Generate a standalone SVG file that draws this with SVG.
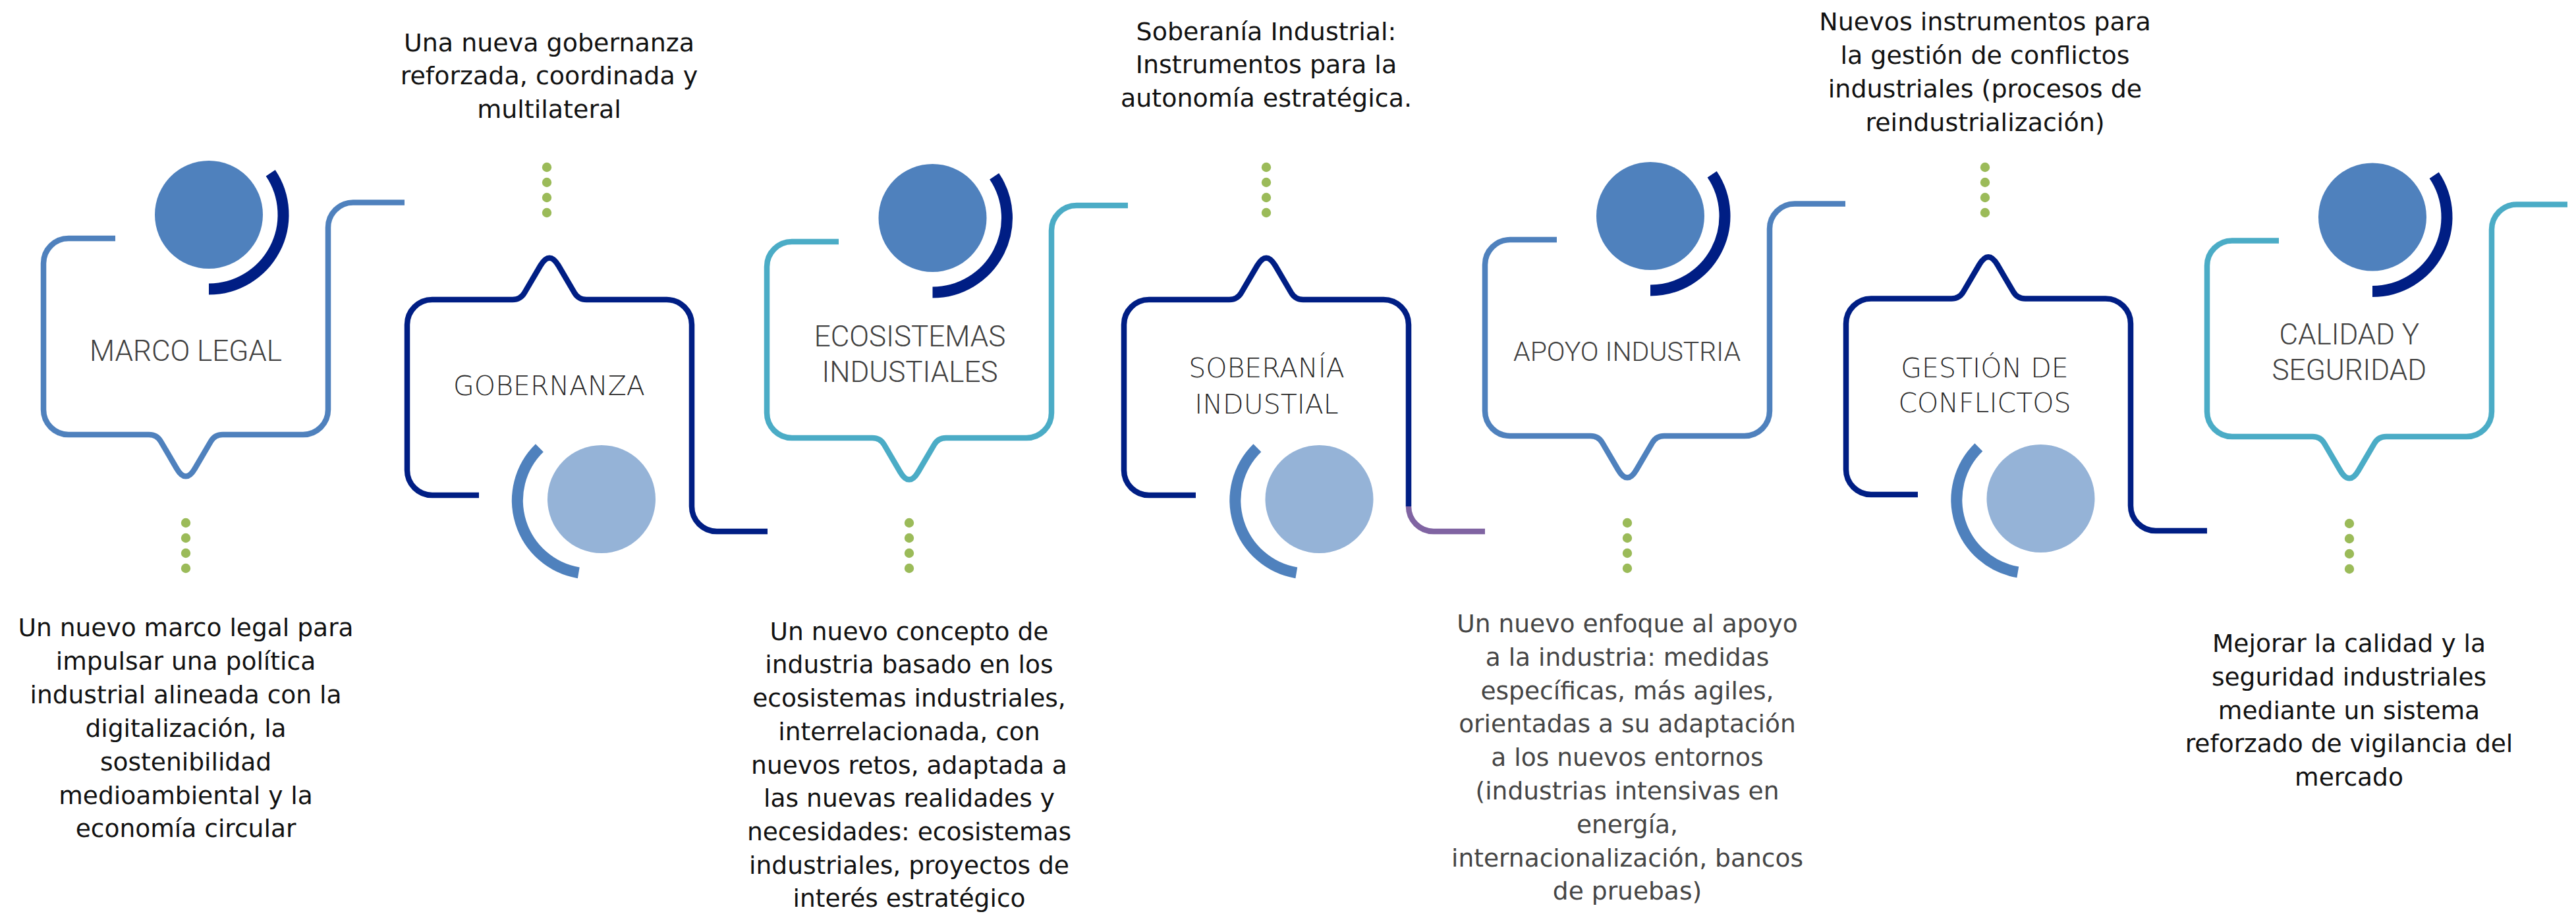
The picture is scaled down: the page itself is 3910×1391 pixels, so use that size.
<svg xmlns="http://www.w3.org/2000/svg" width="3910" height="1391" viewBox="0 0 3910 1391">
<style>
.frame{fill:none;stroke-width:8.5;stroke-linecap:butt;stroke-linejoin:round}
.blue{stroke:#4F81BD}.navy{stroke:#001E84}.teal{stroke:#4BACC6}.purple{stroke:#8064A2}
.arcTop{fill:none;stroke:#001E84;stroke-width:17}
.arcBot{fill:none;stroke:#4F81BD;stroke-width:17}
.discTop{fill:#4F81BD}.discBot{fill:#95B3D7}
.dot{fill:#9BBB59}
.tA{font-family:Roboto,"Liberation Sans",sans-serif;font-weight:300;font-size:44px;fill:#404040;text-anchor:middle}
.tB{font-family:"DejaVu Sans","Liberation Sans",sans-serif;font-weight:200;font-size:41px;fill:#2a2a2a;text-anchor:middle}
.dTop{font-family:"DejaVu Sans","Liberation Sans",sans-serif;font-size:38px;fill:#111;text-anchor:middle}
.dBot{font-family:"DejaVu Sans","Liberation Sans",sans-serif;font-size:37.6px;fill:#111;text-anchor:middle}
.gray{fill:#454545}
</style>
<rect width="3910" height="1391" fill="#fff"/>

<g id="node-marco-legal">
<path class="frame blue" d="M175,362 H104 A38,38 0 0 0 66,400 V622 A38,38 0 0 0 104,660 H226 Q238,660 244.07,670.34 L268.34,711.73 Q282,735 295.66,711.73 L319.93,670.34 Q326,660 338,660 H460 A38,38 0 0 0 498,622 V345.5 A38,38 0 0 1 536,307.5 H614"/>
<circle class="discTop" cx="317" cy="326" r="82"/>
<path class="arcTop" d="M410.68,262.81 A113,113 0 0 1 317,439"/>
<text class="tA" x="282" y="547.5">MARCO LEGAL</text>
<text class="dBot" x="282"><tspan x="282" y="966">Un nuevo marco legal para</tspan><tspan x="282" y="1017">impulsar una política</tspan><tspan x="282" y="1068">industrial alineada con la</tspan><tspan x="282" y="1118.5">digitalización, la</tspan><tspan x="282" y="1169.5">sostenibilidad</tspan><tspan x="282" y="1220.5">medioambiental y la</tspan><tspan x="282" y="1271">economía circular</tspan></text>
</g>

<g id="node-gobernanza">
<path class="frame navy" d="M727,752 H656 A38,38 0 0 1 618,714 V493 A38,38 0 0 1 656,455 H778 Q790,455 796.07,444.66 L820.34,403.27 Q834,380 847.66,403.27 L871.93,444.66 Q878,455 890,455 H1012 A38,38 0 0 1 1050,493 V769 A38,38 0 0 0 1088,807 H1165"/>
<circle class="discBot" cx="913" cy="758" r="82"/>
<path class="arcBot" d="M878.31,869.84 A111.5,111.5 0 0 1 818.88,680.23"/>
<text class="tB" x="833.5" y="600">GOBERNANZA</text>
<text class="dTop"><tspan x="833.5" y="77.5">Una nueva gobernanza</tspan><tspan x="833.5" y="128.3">reforzada, coordinada y</tspan><tspan x="833.5" y="179.1">multilateral</tspan></text>
</g>

<g id="node-ecosistemas">
<path class="frame teal" d="M1273,367 H1202 A38,38 0 0 0 1164,405 V627 A38,38 0 0 0 1202,665 H1324 Q1336,665 1342.07,675.34 L1366.34,716.73 Q1380,740 1393.66,716.73 L1417.93,675.34 Q1424,665 1436,665 H1558 A38,38 0 0 0 1596,627 V350 A38,38 0 0 1 1634,312 H1712"/>
<circle class="discTop" cx="1415.5" cy="331" r="82"/>
<path class="arcTop" d="M1509.18,267.81 A113,113 0 0 1 1415.5,444"/>
<text class="tA"><tspan x="1381" y="525.7">ECOSISTEMAS</tspan><tspan x="1381" y="579.6">INDUSTIALES</tspan></text>
<text class="dBot"><tspan x="1380" y="971.7">Un nuevo concepto de</tspan><tspan x="1380" y="1022.4">industria basado en los</tspan><tspan x="1380" y="1073.1">ecosistemas industriales,</tspan><tspan x="1380" y="1123.8">interrelacionada, con</tspan><tspan x="1380" y="1174.5">nuevos retos, adaptada a</tspan><tspan x="1380" y="1225.2">las nuevas realidades y</tspan><tspan x="1380" y="1275.9">necesidades: ecosistemas</tspan><tspan x="1380" y="1326.6">industriales, proyectos de</tspan><tspan x="1380" y="1377.3">interés estratégico</tspan></text>
</g>

<g id="node-soberania">
<path class="frame navy" d="M1815,752 H1744 A38,38 0 0 1 1706,714 V493 A38,38 0 0 1 1744,455 H1866 Q1878,455 1884.07,444.66 L1908.34,403.27 Q1922,380 1935.66,403.27 L1959.93,444.66 Q1966,455 1978,455 H2100 A38,38 0 0 1 2138,493 V769"/>
<path class="frame purple" d="M2138,769 A38,38 0 0 0 2176,807 H2254"/>
<circle class="discBot" cx="2002.5" cy="758" r="82"/>
<path class="arcBot" d="M1967.81,869.84 A111.5,111.5 0 0 1 1908.38,680.23"/>
<text class="tB"><tspan x="1922.5" y="573">SOBERANÍA</tspan><tspan x="1922.5" y="627.5">INDUSTIAL</tspan></text>
<text class="dTop"><tspan x="1922" y="60.5">Soberanía Industrial:</tspan><tspan x="1922" y="111.2">Instrumentos para la</tspan><tspan x="1922" y="161.9">autonomía estratégica.</tspan></text>
</g>

<g id="node-apoyo-industria">
<path class="frame blue" d="M2363,364 H2292 A38,38 0 0 0 2254,402 V624 A38,38 0 0 0 2292,662 H2414 Q2426,662 2432.07,672.34 L2456.34,713.73 Q2470,737 2483.66,713.73 L2507.93,672.34 Q2514,662 2526,662 H2648 A38,38 0 0 0 2686,624 V347.5 A38,38 0 0 1 2724,309.5 H2801"/>
<circle class="discTop" cx="2505" cy="328" r="82"/>
<path class="arcTop" d="M2598.68,264.81 A113,113 0 0 1 2505,441"/>
<text class="tA" x="2469.6" y="548.2" style="font-size:41px">APOYO INDUSTRIA</text>
<text class="dBot gray"><tspan x="2470" y="960">Un nuevo enfoque al apoyo</tspan><tspan x="2470" y="1010.8">a la industria: medidas</tspan><tspan x="2470" y="1061.6">específicas, más agiles,</tspan><tspan x="2470" y="1112.4">orientadas a su adaptación</tspan><tspan x="2470" y="1163.2">a los nuevos entornos</tspan><tspan x="2470" y="1214">(industrias intensivas en</tspan><tspan x="2470" y="1264.8">energía,</tspan><tspan x="2470" y="1315.6">internacionalización, bancos</tspan><tspan x="2470" y="1366.4">de pruebas)</tspan></text>
</g>

<g id="node-gestion-conflictos">
<path class="frame navy" d="M2911,751 H2840 A38,38 0 0 1 2802,713 V491.5 A38,38 0 0 1 2840,453.5 H2962 Q2974,453.5 2980.07,443.16 L3004.34,401.77 Q3018,378.5 3031.66,401.77 L3055.93,443.16 Q3062,453.5 3074,453.5 H3196 A38,38 0 0 1 3234,491.5 V768 A38,38 0 0 0 3272,806 H3350"/>
<circle class="discBot" cx="3097.5" cy="757" r="82"/>
<path class="arcBot" d="M3062.81,868.84 A111.5,111.5 0 0 1 3003.38,679.23"/>
<text class="tB"><tspan x="3012.5" y="573">GESTIÓN DE</tspan><tspan x="3012.5" y="626">CONFLICTOS</tspan></text>
<text class="dTop"><tspan x="3013" y="46">Nuevos instrumentos para</tspan><tspan x="3013" y="97">la gestión de conflictos</tspan><tspan x="3013" y="148">industriales (procesos de</tspan><tspan x="3013" y="199">reindustrialización)</tspan></text>
</g>

<g id="node-calidad-seguridad">
<path class="frame teal" d="M3459,365.5 H3388 A38,38 0 0 0 3350,403.5 V625 A38,38 0 0 0 3388,663 H3510 Q3522,663 3528.07,673.34 L3552.34,714.73 Q3566,738 3579.66,714.73 L3603.93,673.34 Q3610,663 3622,663 H3744 A38,38 0 0 0 3782,625 V348.5 A38,38 0 0 1 3820,310.5 H3897"/>
<circle class="discTop" cx="3601" cy="329.5" r="82"/>
<path class="arcTop" d="M3694.68,266.31 A113,113 0 0 1 3601,442.5"/>
<text class="tA"><tspan x="3565.8" y="523.2">CALIDAD Y</tspan><tspan x="3565.8" y="577.2">SEGURIDAD</tspan></text>
<text class="dBot"><tspan x="3565.5" y="990">Mejorar la calidad y la</tspan><tspan x="3565.5" y="1040.8">seguridad industriales</tspan><tspan x="3565.5" y="1091.6">mediante un sistema</tspan><tspan x="3565.5" y="1142.4">reforzado de vigilancia del</tspan><tspan x="3565.5" y="1193.2">mercado</tspan></text>
</g>

<g id="connectors">
<g id="dots-marco"><circle class="dot" cx="282" cy="794" r="7.2"/><circle class="dot" cx="282" cy="817" r="7.2"/><circle class="dot" cx="282" cy="840" r="7.2"/><circle class="dot" cx="282" cy="863" r="7.2"/></g>
<g id="dots-gobernanza"><circle class="dot" cx="830" cy="254" r="7.2"/><circle class="dot" cx="830" cy="277" r="7.2"/><circle class="dot" cx="830" cy="300" r="7.2"/><circle class="dot" cx="830" cy="323" r="7.2"/></g>
<g id="dots-ecosistemas"><circle class="dot" cx="1380" cy="794" r="7.2"/><circle class="dot" cx="1380" cy="817" r="7.2"/><circle class="dot" cx="1380" cy="840" r="7.2"/><circle class="dot" cx="1380" cy="863" r="7.2"/></g>
<g id="dots-soberania"><circle class="dot" cx="1922" cy="254" r="7.2"/><circle class="dot" cx="1922" cy="277" r="7.2"/><circle class="dot" cx="1922" cy="300" r="7.2"/><circle class="dot" cx="1922" cy="323" r="7.2"/></g>
<g id="dots-apoyo"><circle class="dot" cx="2470" cy="794" r="7.2"/><circle class="dot" cx="2470" cy="817" r="7.2"/><circle class="dot" cx="2470" cy="840" r="7.2"/><circle class="dot" cx="2470" cy="863" r="7.2"/></g>
<g id="dots-gestion"><circle class="dot" cx="3013" cy="254" r="7.2"/><circle class="dot" cx="3013" cy="277" r="7.2"/><circle class="dot" cx="3013" cy="300" r="7.2"/><circle class="dot" cx="3013" cy="323" r="7.2"/></g>
<g id="dots-calidad"><circle class="dot" cx="3566" cy="795" r="7.2"/><circle class="dot" cx="3566" cy="818" r="7.2"/><circle class="dot" cx="3566" cy="841" r="7.2"/><circle class="dot" cx="3566" cy="864" r="7.2"/></g>
</g>
</svg>
